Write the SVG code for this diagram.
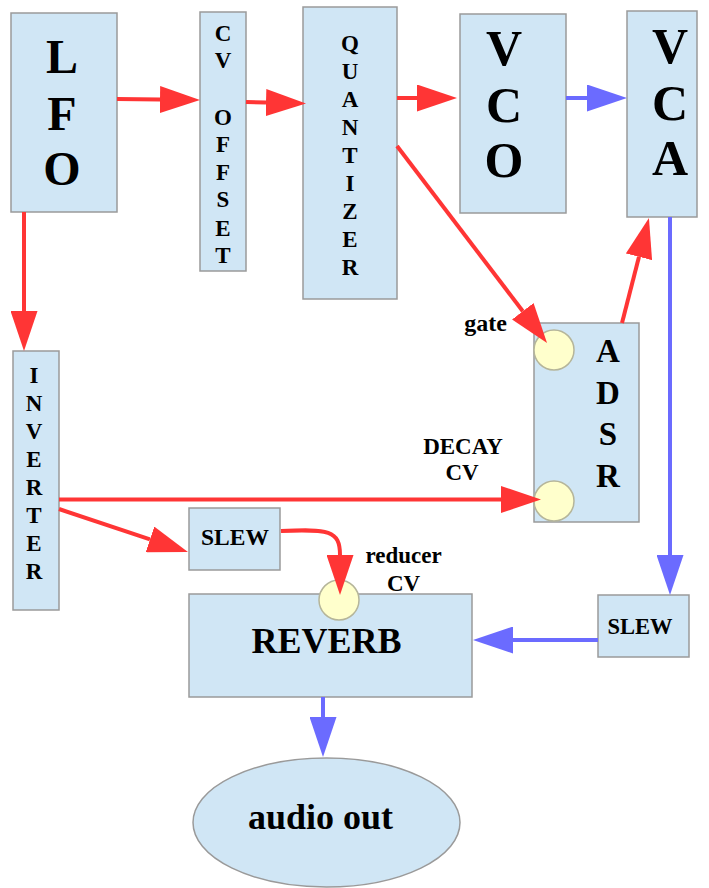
<svg xmlns="http://www.w3.org/2000/svg" width="709" height="888" viewBox="0 0 709 888">
<style>
.box{fill:#d0e6f5;stroke:#9a9a9a;stroke-width:1.5}
.port{fill:#ffffcc;stroke:#b5b59a;stroke-width:1.5}
text{font-family:"Liberation Serif","Times New Roman",serif;font-weight:bold;fill:#000;text-anchor:middle}
.big{font-size:50px}
.mid{font-size:33px}
.sm{font-size:23px}
.lbl{font-size:23px}
.r{fill:none;stroke:#ff3535;stroke-width:4}
.b{fill:none;stroke:#6b6bff;stroke-width:4}
</style>
<defs>
<marker id="ar" markerUnits="userSpaceOnUse" markerWidth="40" markerHeight="27" viewBox="0 0 40 27" refX="0" refY="13.5" orient="auto"><path d="M0,0 L40,13.5 L0,27 z" fill="#ff3535"/></marker>
<marker id="ab" markerUnits="userSpaceOnUse" markerWidth="40" markerHeight="27" viewBox="0 0 40 27" refX="0" refY="13.5" orient="auto"><path d="M0,0 L40,13.5 L0,27 z" fill="#6b6bff"/></marker>
</defs>
<g id="lfo">
<rect class="box" x="11" y="13" width="106" height="199"/>
<text class="big" x="62" y="73" style="font-size:48px">L</text>
<text class="big" x="62" y="130" style="font-size:48px">F</text>
<text class="big" x="62" y="185" style="font-size:48px">O</text>
</g>
<g id="cv-offset">
<rect class="box" x="200" y="12" width="46" height="259"/>
<text class="sm" x="223" y="41">C</text>
<text class="sm" x="223" y="68">V</text>
<text class="sm" x="223" y="125">O</text>
<text class="sm" x="223" y="152">F</text>
<text class="sm" x="223" y="180">F</text>
<text class="sm" x="223" y="207">S</text>
<text class="sm" x="223" y="236">E</text>
<text class="sm" x="223" y="263">T</text>
</g>
<g id="quantizer">
<rect class="box" x="303" y="7" width="94" height="292"/>
<text class="sm" x="350" y="51">Q</text>
<text class="sm" x="350" y="79">U</text>
<text class="sm" x="350" y="107">A</text>
<text class="sm" x="350" y="135">N</text>
<text class="sm" x="350" y="163">T</text>
<text class="sm" x="350" y="191">I</text>
<text class="sm" x="350" y="219">Z</text>
<text class="sm" x="350" y="247">E</text>
<text class="sm" x="350" y="275">R</text>
</g>
<g id="vco">
<rect class="box" x="460" y="14" width="106" height="199"/>
<text class="big" x="504" y="65">V</text>
<text class="big" x="504" y="122">C</text>
<text class="big" x="504" y="177">O</text>
</g>
<g id="vca">
<rect class="box" x="627" y="11" width="70" height="206"/>
<text class="big" x="670" y="63">V</text>
<text class="big" x="670" y="120">C</text>
<text class="big" x="670" y="175">A</text>
</g>
<g id="adsr">
<rect class="box" x="534" y="323" width="105" height="199"/>
<text class="mid" x="608" y="362">A</text>
<text class="mid" x="608" y="404">D</text>
<text class="mid" x="608" y="445">S</text>
<text class="mid" x="608" y="487">R</text>
<circle class="port" cx="554" cy="350" r="20"/>
<circle class="port" cx="554" cy="501" r="20"/>
<text class="lbl" x="485.5" y="331" style="font-size:24px">gate</text>
<text class="lbl" x="463" y="454">DECAY</text>
<text class="lbl" x="462" y="480">CV</text>
</g>
<g id="inverter">
<rect class="box" x="13" y="351" width="46" height="259"/>
<text class="sm" x="34" y="383">I</text>
<text class="sm" x="34" y="411">N</text>
<text class="sm" x="34" y="439">V</text>
<text class="sm" x="34" y="467">E</text>
<text class="sm" x="34" y="495">R</text>
<text class="sm" x="34" y="523">T</text>
<text class="sm" x="34" y="551">E</text>
<text class="sm" x="34" y="579">R</text>
</g>
<g id="slew1">
<rect class="box" x="189" y="508" width="91" height="62"/>
<text class="lbl" x="235" y="545" style="font-size:23.5px">SLEW</text>
</g>
<g id="slew2">
<rect class="box" x="598" y="595" width="91" height="62"/>
<text class="lbl" x="640" y="634" style="font-size:22.5px">SLEW</text>
</g>
<g id="reverb">
<rect class="box" x="189" y="594" width="283" height="103"/>
<text x="326.5" y="653" style="font-size:36px">REVERB</text>
<circle class="port" cx="339" cy="600" r="20"/>
<text class="lbl" x="403.5" y="563">reducer</text>
<text class="lbl" x="403.5" y="591">CV</text>
</g>
<g id="audio-out">
<ellipse class="box" cx="326.5" cy="822.5" rx="133.5" ry="64.5"/>
<text x="320.5" y="829" style="font-size:36px">audio out</text>
</g>
<g id="connectors">
<path class="r" d="M117,99 L160,99.5" marker-end="url(#ar)"/>
<path class="r" d="M246,102 L266,102.5" marker-end="url(#ar)"/>
<path class="r" d="M397,98 L417,98" marker-end="url(#ar)"/>
<path class="b" d="M566,98 L587,98" marker-end="url(#ab)"/>
<path class="r" d="M397,146 L522.8,311.2" marker-end="url(#ar)"/>
<path class="r" d="M622,323 L639,256.8" marker-end="url(#ar)"/>
<path class="r" d="M24,212 L24,311" marker-end="url(#ar)"/>
<path class="r" d="M59,499.5 L501,499.5" marker-end="url(#ar)"/>
<path class="r" d="M59,509 L150,539.4" marker-end="url(#ar)"/>
<path class="r" d="M281,531 C328,529 340,530 340,555" marker-end="url(#ar)"/>
<path class="b" d="M670,217 L670,555" marker-end="url(#ab)"/>
<path class="b" d="M598,640 L513,640" marker-end="url(#ab)"/>
<path class="b" d="M323,697 L323,717" marker-end="url(#ab)"/>
</g>
</svg>
